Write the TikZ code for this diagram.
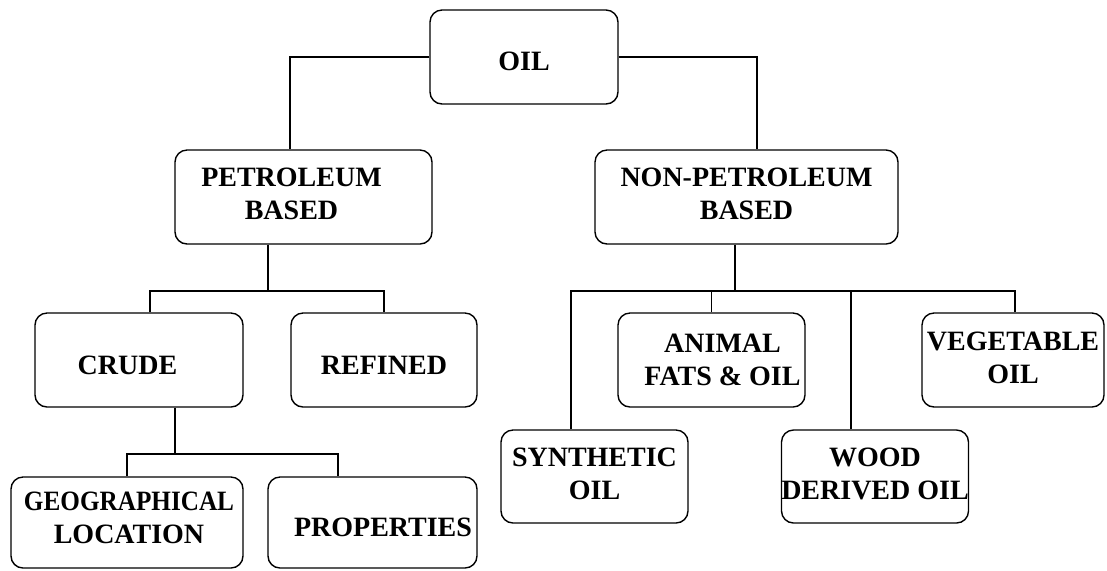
\documentclass[tikz,border=0pt]{standalone}
\usepackage{fontspec}
\setmainfont{Liberation Serif}
\tikzset{
  oilbox/.style={shape=rectangle, draw, rounded corners=6pt, line width=0.7pt, inner sep=0pt},
  every label/.style={font=\bfseries\fontsize{14}{16.5}\selectfont, align=center, inner sep=0pt}
}
\begin{document}
\begin{tikzpicture}[x=0.5pt, y=-0.5pt, line width=0.7pt]
			\useasboundingbox (0,0) rectangle (1107,570);

			\node[oilbox, minimum width=94pt, minimum height=47pt, label={[yshift=-2pt]center:OIL}] (oil) at (524, 57){};

			\node[oilbox, minimum width=128.5pt, minimum height=47pt, label={[xshift=-6pt, yshift=1.75pt]center:PETROLEUM\\BASED}] (pet) at (303.5, 197){};
			\node[oilbox, minimum width=151.5pt, minimum height=47pt, label={[yshift=1.75pt]center:NON-PETROLEUM\\BASED}] (nonpet) at (746.5, 197){};

			\node[oilbox, minimum width=104pt, minimum height=47pt, label={[xshift=-5.75pt, yshift=-2.5pt]center:CRUDE}] (crude) at (139, 360){};
			\node[oilbox, minimum width=93pt, minimum height=47pt, label={[yshift=-2.5pt]center:REFINED}] (refined) at (384, 360){};

			\node[oilbox, minimum width=116pt, minimum height=45.5pt, label={[xshift=1pt, yshift=2.5pt]center:\scalebox{0.9}[1]{GEOGRAPHICAL}\\LOCATION}] (geo) at (127, 522.5){};
			\node[oilbox, minimum width=104.5pt, minimum height=45.5pt, label={[xshift=5.25pt, yshift=-2.25pt]center:PROPERTIES}] (prop) at (372.5, 522.5){};

			\node[oilbox, minimum width=93.5pt, minimum height=47pt, label={[xshift=5.5pt]center:ANIMAL\\FATS \& OIL}] (animal) at (711.5, 360){};
			\node[oilbox, minimum width=91pt, minimum height=47pt, label={[yshift=1pt]center:VEGETABLE\\OIL}] (veg) at (1013, 360){};
			\node[oilbox, minimum width=93.5pt, minimum height=46.5pt, label={[yshift=1.5pt]center:SYNTHETIC\\OIL}] (synth) at (594.5, 476.5){};
			\node[oilbox, minimum width=93.5pt, minimum height=46.5pt, label={[yshift=1.5pt]center:WOOD\\DERIVED OIL}] (wood) at (875, 476.5){};

			\coordinate (pjoin) at (268, 291);
			\coordinate (cjoin) at (175, 454);
			\coordinate (njoin) at (735, 291);

			\draw (oil.west) -| ([xshift=-6.75pt]pet.north);
			\draw (oil.east) -| ([xshift=5.25pt]nonpet.north);
			\draw[line width=1.4pt] ([xshift=46.5pt]oil.east) -- ([xshift=58.5pt]oil.east);

			\draw ([xshift=-17.75pt]pet.south) -- (pjoin);
			\draw ([xshift=5.5pt]crude.north) |- (pjoin) -| (refined.north);

			\draw ([xshift=18pt]crude.south) -- (cjoin);
			\draw (geo.north) |- (cjoin) -| ([xshift=-17.25pt]prop.north);

			\draw ([xshift=-5.75pt]nonpet.south) -- (njoin);
			\draw ([xshift=-11.75pt]synth.north) |- (njoin) -| ([xshift=1pt]veg.north);
			\draw (animal.north) |- (njoin);
			\draw ([xshift=-12pt]wood.north) |- (njoin);
		\end{tikzpicture}
\end{document}
